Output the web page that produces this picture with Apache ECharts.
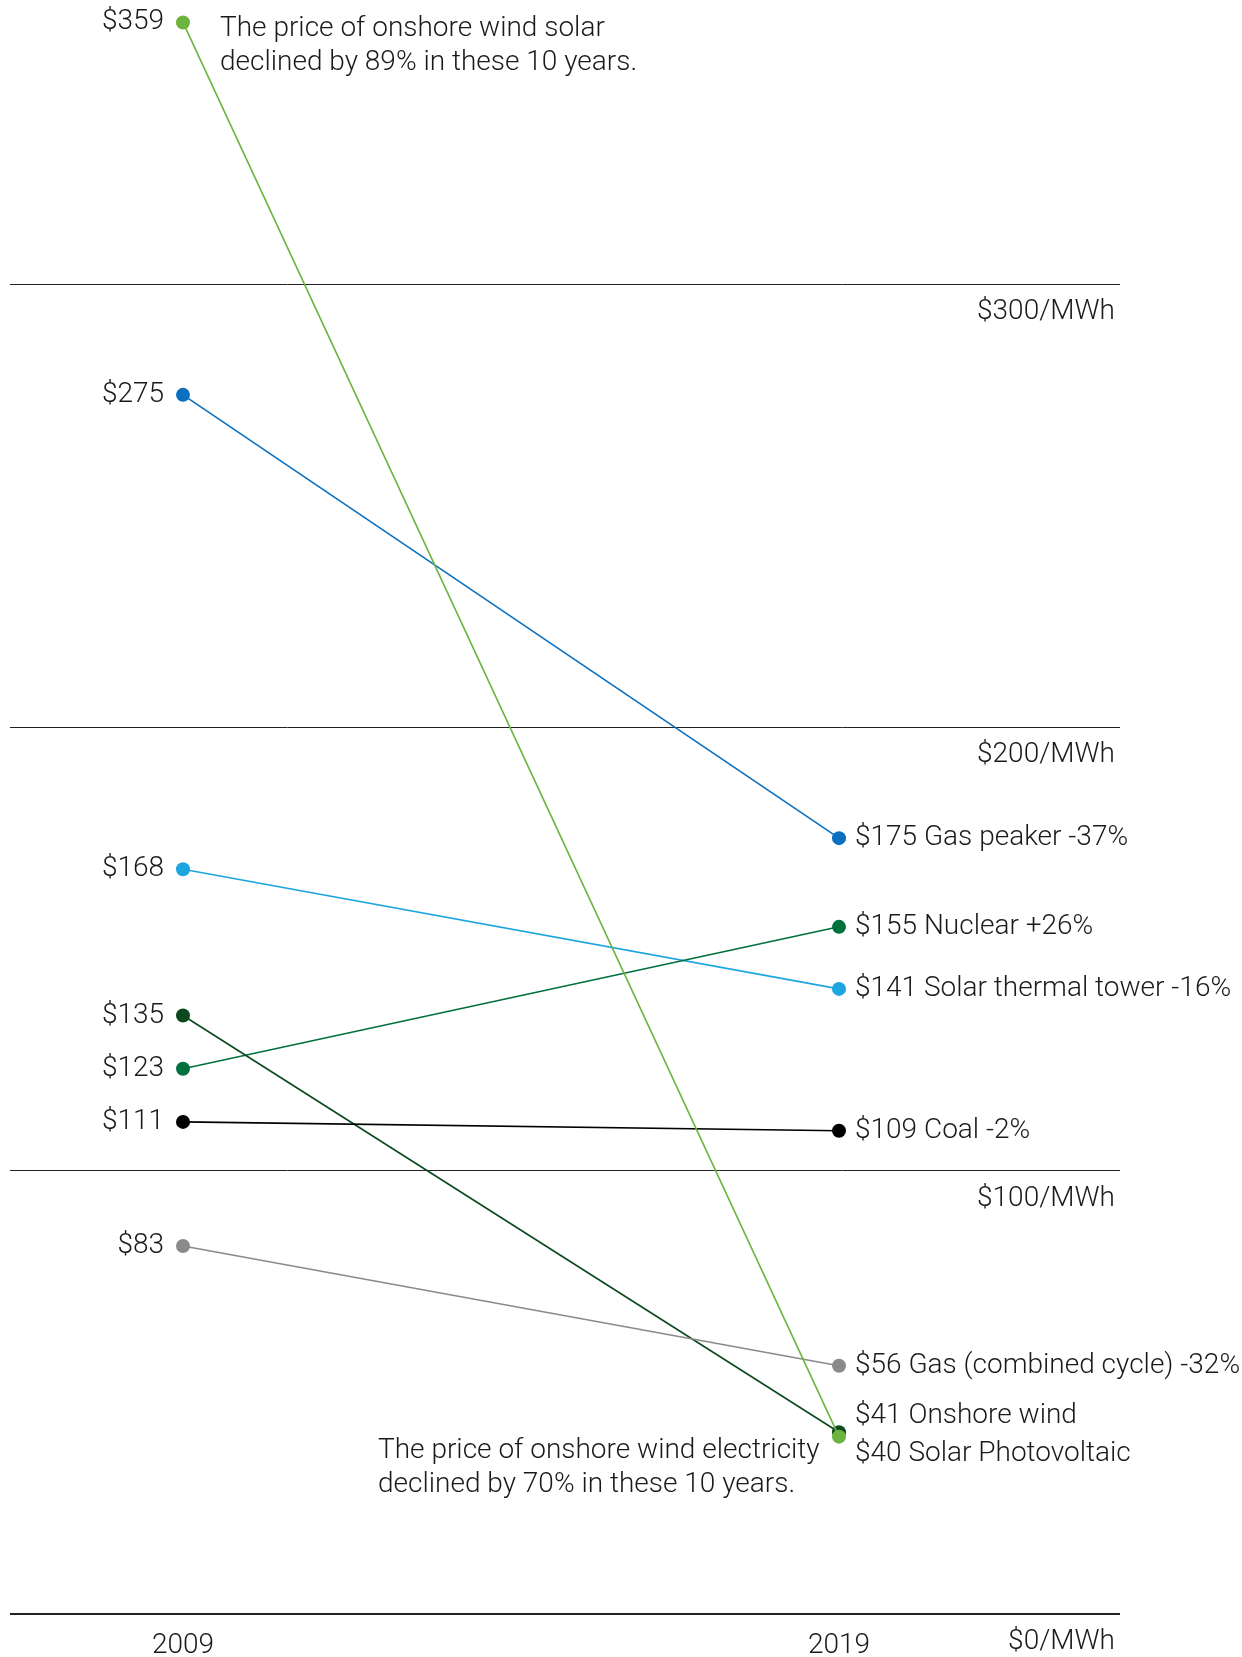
<!DOCTYPE html>
<html>
<head>
<meta charset="utf-8">
<title>Levelized cost of electricity, 2009 vs 2019</title>
<script src="https://cdn.jsdelivr.net/npm/echarts@6/dist/echarts.min.js"></script>
<style>
  html, body { margin: 0; padding: 0; background: #ffffff; }
  #chart { width: 1242px; height: 1657px; }
</style>
</head>
<body>
<div id="chart"></div>
<script>
// Cost per MWh for each source, first year vs last year
const years = [2009, 2019];
const sources = ['Solar Photovoltaic', 'Gas peaker', 'Solar thermal tower', 'Nuclear', 'Onshore wind', 'Coal', 'Gas (combined cycle)'];
const cost2009 = [359, 275, 168, 123, 135, 111, 83];
const cost2019 = [40, 175, 141, 155, 41, 109, 56];
const changeText = ['', '-37%', '-16%', '+26%', '', '-2%', '-32%'];
const colors = ['#6cb33f', '#0a6fbf', '#1ca6e0', '#00703c', '#0b4a1f', '#000000', '#8a8a8a'];
const yTicks = [0, 100, 200, 300];

const noteTop = ['The price of onshore wind solar', 'declined by 89% in these 10 years.'];
const noteBottom = ['The price of onshore wind electricity', 'declined by 70% in these 10 years.'];

const FONT = 'Roboto';
const TEXT = '#1a1a1a';
const FS = 28;

// Label nudges at the right end where two values sit close together
const rightOffset = { 'Onshore wind': [0, -16], 'Solar Photovoltaic': [0, 17] };

const series = sources.map((name, i) => ({
  name: name,
  type: 'line',
  clip: false,
  symbol: 'circle',
  symbolSize: 14,
  color: colors[i],
  lineStyle: { width: 1.6, color: colors[i] },
  itemStyle: { color: colors[i] },
  z: name === 'Solar Photovoltaic' ? 3 : 2,
  data: [
    {
      value: [years[0], cost2009[i]],
      label: {
        show: true, position: 'left', distance: 12,
        formatter: '$' + cost2009[i]
      }
    },
    {
      value: [years[1], cost2019[i]],
      label: {
        show: true, position: 'right', distance: 9,
        offset: rightOffset[name] || [0, 0],
        formatter: ('$' + cost2019[i] + ' ' + name + ' ' + changeText[i]).trim()
      }
    }
  ],
  label: {
    fontFamily: FONT, fontWeight: 300, fontSize: FS, color: TEXT
  },
  emphasis: { disabled: true }
}));

const chart = echarts.init(document.getElementById('chart'), null, { renderer: 'canvas' });

chart.setOption({
  animation: false,
  backgroundColor: '#ffffff',
  textStyle: { fontFamily: FONT },
  grid: {
    left: 10, right: 122, top: 18, bottom: 43,
    containLabel: false,
    outerBoundsMode: 'none'
  },
  xAxis: {
    type: 'value',
    min: 2009 - 173 / 65.6,
    max: 2019 + 281 / 65.6,
    interval: 10,
    axisLine: { show: false },
    axisTick: { show: false },
    splitLine: { show: false },
    axisLabel: {
      show: true,
      margin: 18,
      fontFamily: FONT, fontWeight: 300, fontSize: FS, color: TEXT,
      customValues: years,
      formatter: v => String(Math.round(v))
    }
  },
  yAxis: {
    type: 'value',
    position: 'right',
    min: 0,
    max: 360,
    interval: 100,
    axisLine: { show: false },
    axisTick: { show: false },
    splitLine: {
      show: true,
      showMinLine: false,
      showMaxLine: false,
      lineStyle: { color: '#222222', width: 1 }
    },
    axisLabel: {
      inside: true,
      margin: 5,
      verticalAlign: 'top',
      padding: [14, 0, 0, 0],
      fontFamily: FONT, fontWeight: 300, fontSize: FS, color: TEXT,
      customValues: yTicks,
      formatter: v => '$' + v + '/MWh'
    }
  },
  series: series.concat([{
    // baseline at $0
    type: 'line',
    silent: true,
    symbol: 'none',
    data: [],
    markLine: {
      silent: true,
      symbol: 'none',
      label: { show: false },
      lineStyle: { type: 'solid', color: '#222222', width: 2 },
      data: [{ yAxis: 0 }]
    }
  }]),
  graphic: [
    {
      type: 'text', left: 220, top: 12,
      style: {
        text: noteTop.join('\n'), fontFamily: FONT, fontWeight: 300,
        fontSize: FS, lineHeight: 34, fill: TEXT
      }
    },
    {
      type: 'text', left: 378, top: 1434,
      style: {
        text: noteBottom.join('\n'), fontFamily: FONT, fontWeight: 300,
        fontSize: FS, lineHeight: 34, fill: TEXT
      }
    }
  ]
});
</script>
</body>
</html>
